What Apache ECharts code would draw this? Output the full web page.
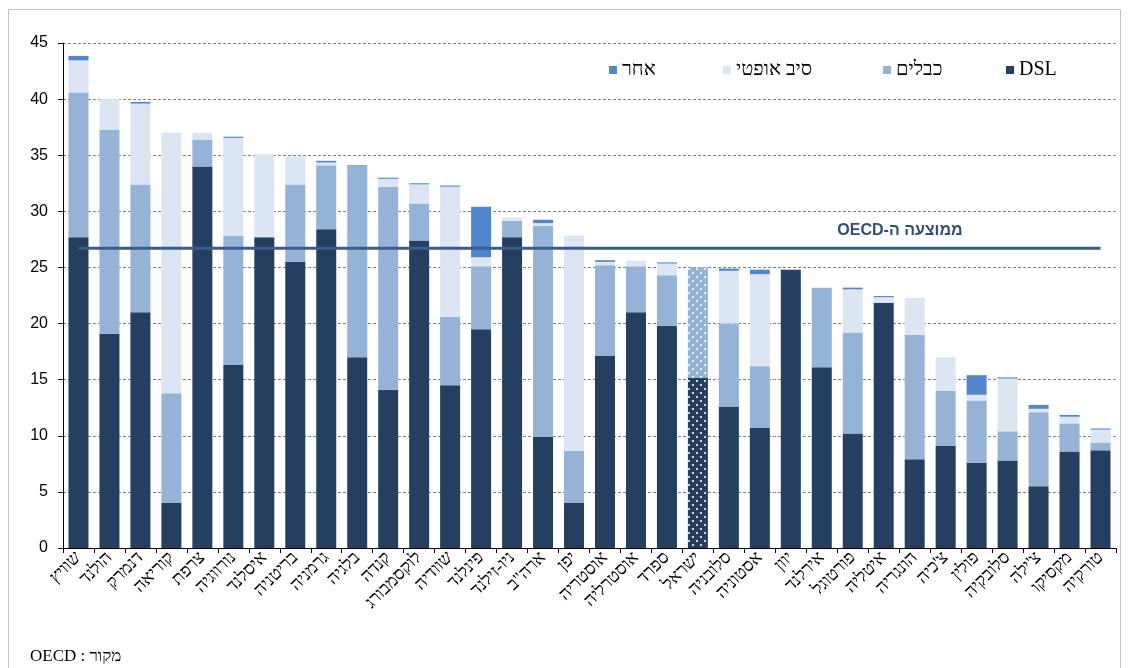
<!DOCTYPE html>
<html>
<head>
<meta charset="utf-8">
<script src="https://cdn.jsdelivr.net/npm/echarts@6.0.0/dist/echarts.min.js"></script>
<style>
    html, body { margin: 0; padding: 0; background: #fff; }
    #chart { width: 1128px; height: 668px; }
</style>
</head>
<body>
<div id="chart"></div>
<script>
// מדינות, משמאל לימין
var countries = ['שוויץ', 'הולנד', 'דנמרק', 'קוריאה', 'צרפת', 'נורווגיה', 'איסלנד', 'בריטניה', 'גרמניה',
    'בלגיה', 'קנדה', 'לוקסמבורג', 'שוודיה', 'פינלנד', 'ניו-זילנד', 'ארה"ב', 'יפן', 'אוסטריה',
    'אוסטרליה', 'ספרד', 'ישראל', 'סלובניה', 'אסטוניה', 'יוון', 'אירלנד', 'פורטוגל', 'איטליה',
    'הונגריה', "צ'כיה", 'פולין', 'סלובקיה', "צ'ילה", 'מקסיקו', 'טורקיה'];

var dsl = [27.7, 19.1, 21.0, 4.0, 34.0, 16.3, 27.7, 25.5, 28.4, 17.0, 14.1, 27.4, 14.5, 19.5, 27.7, 9.9, 4.0,
    17.1, 21.0, 19.8, 15.2, 12.6, 10.7, 24.8, 16.1, 10.2, 21.85, 7.9, 9.1, 7.6, 7.8, 5.5, 8.6, 8.7];
var cable = [12.9, 18.2, 11.4, 9.8, 2.4, 11.55, 0, 6.9, 5.7, 17.0, 18.1, 3.3, 6.1, 5.6, 1.45, 18.8, 4.65,
    8.1, 4.1, 4.5, 9.8, 7.4, 5.5, 0, 7.1, 9.0, 0, 11.1, 4.9, 5.55, 2.6, 6.6, 2.5, 0.7];
var fiber = [2.85, 2.7, 7.2, 23.2, 0.6, 8.7, 7.4, 2.5, 0.25, 0, 0.7, 1.7, 11.6, 0.8, 0.3, 0.25, 19.2,
    0.3, 0.5, 1.05, 0, 4.7, 8.2, 0, 0, 3.85, 0.5, 3.3, 3.0, 0.5, 4.7, 0.3, 0.6, 1.15];
var other = [0.4, 0, 0.15, 0, 0, 0.1, 0, 0, 0.15, 0.1, 0.1, 0.1, 0.1, 4.5, 0, 0.3, 0,
    0.15, 0, 0.1, 0, 0.2, 0.4, 0, 0, 0.15, 0.1, 0, 0, 1.75, 0.1, 0.35, 0.15, 0.1];

var oecdAvg = 26.7;
var seriesNames = ['DSL', 'כבלים', 'סיב אופטי', 'אחר'];
var colors = ['#243f60', '#95b3d7', '#dce6f2', '#4f86cc'];

var israelIdx = countries.indexOf('ישראל');

// ישראל מסומנת בנקודות
function markIsrael(values) {
    return values.map(function (v, i) {
        if (i !== israelIdx) {
            return v;
        }
        return {
            value: v,
            itemStyle: {
                decal: {
                    symbol: 'rect',
                    symbolSize: 1,
                    color: 'rgba(255,255,255,0.8)',
                    dashArrayX: [[1.5, 5.5], [0, 3.5, 1.5, 2]],
                    dashArrayY: [1.5, 2]
                }
            }
        };
    });
}

function barSeries(name, values, color) {
    return {
        name: name,
        type: 'bar',
        stack: 'total',
        barWidth: 20,
        itemStyle: { color: color },
        emphasis: { disabled: true },
        data: markIsrael(values)
    };
}

// כל פריט מקרא ממוקם לבד, כמו במקור
function legendItem(name, left) {
    return {
        data: [name],
        left: left,
        top: 55,
        icon: 'rect',
        itemWidth: 8,
        itemHeight: 8,
        selectedMode: false,
        textStyle: { fontFamily: 'Liberation Serif', fontSize: 20, color: '#000' }
    };
}

var myChart = echarts.init(document.getElementById('chart'));

var option = {
    backgroundColor: '#fff',
    animation: false,
    color: colors,
    grid: { left: 63, right: 12, top: 43, bottom: 120 },
    legend: [
        legendItem('אחר', 604),
        legendItem('סיב אופטי', 718),
        legendItem('כבלים', 878),
        legendItem('DSL', 1001)
    ],
    xAxis: {
        type: 'category',
        data: countries,
        axisLine: { lineStyle: { color: '#000', width: 1 } },
        axisTick: { show: true, length: 5, lineStyle: { color: '#000' } },
        axisLabel: {
            interval: 0,
            rotate: 45,
            margin: 7,
            color: '#000',
            fontFamily: 'Liberation Serif',
            fontSize: 18
        }
    },
    yAxis: {
        type: 'value',
        min: 0,
        max: 45,
        interval: 5,
        axisLine: { show: true, lineStyle: { color: '#000', width: 1 } },
        axisTick: { show: true, length: 5, lineStyle: { color: '#000' } },
        axisLabel: { color: '#000', fontFamily: 'Arial, Liberation Sans', fontSize: 16, margin: 15 },
        splitLine: { lineStyle: { color: '#7f7f7f', type: [3, 2], width: 1 } }
    },
    series: [
        barSeries(seriesNames[0], dsl, colors[0]),
        barSeries(seriesNames[1], cable, colors[1]),
        barSeries(seriesNames[2], fiber, colors[2]),
        barSeries(seriesNames[3], other, colors[3]),
        {
            name: 'ממוצע',
            type: 'line',
            z: 5,
            showSymbol: false,
            silent: true,
            lineStyle: { color: '#3a5d8c', width: 3 },
            data: countries.map(function () { return oecdAvg; })
        }
    ]
};

myChart.setOption(option);

// כיתוב הממוצע, המקור ומסגרת
var avgY = myChart.convertToPixel({ yAxisIndex: 0 }, oecdAvg);
myChart.setOption({
    graphic: [
        {
            type: 'rect',
            silent: true,
            shape: { x: 8.5, y: 9.5, width: 1112, height: 700 },
            style: { fill: 'none', stroke: '#c0c0c0', lineWidth: 1 }
        },
        {
            type: 'text',
            silent: true,
            style: {
                x: 900,
                y: avgY - 18,
                text: '\u202Bממוצעה ה-OECD\u202C',
                font: 'bold 16px Arial, "Liberation Sans"',
                fill: '#2f4f75',
                align: 'center',
                verticalAlign: 'middle'
            }
        },
        {
            type: 'text',
            silent: true,
            style: {
                x: 30,
                y: 657,
                text: '\u202Bמקור : OECD\u202C',
                font: '17px "Liberation Serif"',
                fill: '#000',
                align: 'left',
                verticalAlign: 'middle'
            }
        }
    ]
});
</script>
</body>
</html>
